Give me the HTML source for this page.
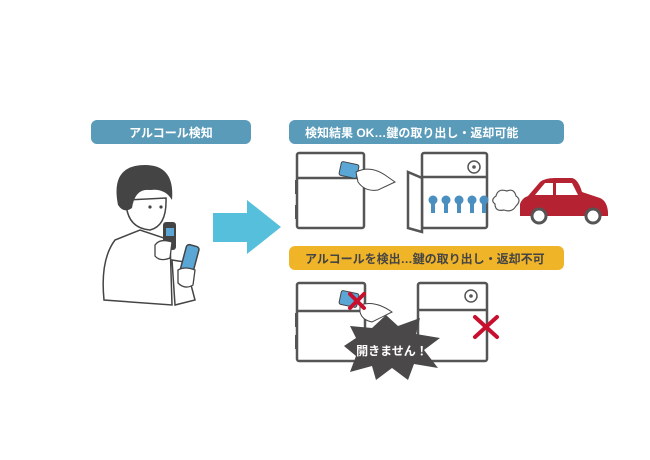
<!DOCTYPE html>
<html><head><meta charset="utf-8"><style>
html,body{margin:0;padding:0;background:#fff;}
svg{display:block;}
text{font-family:"Liberation Sans","Noto Sans CJK JP",sans-serif;font-weight:bold;}
</style></head><body>
<svg width="650" height="460" viewBox="0 0 650 460" xmlns="http://www.w3.org/2000/svg">
<rect width="650" height="460" fill="#fff"/>
<rect x="91" y="120" width="160" height="24" rx="6" fill="#5a9bba"/>
<text x="171" y="137" font-size="12" fill="#fff" text-anchor="middle">アルコール検知</text>
<rect x="289" y="120" width="275" height="24" rx="6" fill="#5a9bba"/>
<text x="305" y="137" font-size="12" fill="#fff">検知結果 OK…鍵の取り出し・返却可能</text>
<rect x="289" y="246" width="275" height="24" rx="6" fill="#f0b429"/>
<text x="305" y="263" font-size="12" fill="#444">アルコールを検出…鍵の取り出し・返却不可</text>
<polygon points="213,213 247,213 247,200 281,227 247,254 247,242 213,242" fill="#56c0dc"/>
<!-- person -->
<g stroke="#444" stroke-width="1.5" fill="#fff">
<path d="M104,300 Q100,260 115,240 L140,230 L170,240 L172,305 Z"/>
<path d="M172,260 L185,262 L195,300 L175,305 Z"/>
<path d="M126,200 Q126,228 150,230 Q167,226 166,198 Z"/>
</g>
<path d="M118,205 Q110,165 145,165 Q175,165 172,200 Q165,188 150,190 Q135,188 132,208 Q124,214 118,205 Z" fill="#444"/>
<circle cx="150" cy="207" r="1.6" fill="#444"/><circle cx="161" cy="207" r="1.6" fill="#444"/>
<rect x="163" y="222" width="13" height="28" rx="3" fill="#444"/>
<rect x="166" y="228" width="8" height="8" fill="#5aa7d6"/>
<path d="M155,245 Q160,238 172,242 L170,258 Q160,262 155,256 Z" fill="#fff" stroke="#444" stroke-width="1.3"/>
<rect x="183" y="245" width="13" height="30" rx="3" transform="rotate(15 189 260)" fill="#5aa7d6" stroke="#444" stroke-width="1.5"/>
<path d="M178,270 Q185,266 195,270 L193,285 Q185,290 178,283 Z" fill="#fff" stroke="#444" stroke-width="1.3"/>
<!-- boxes -->
<g stroke="#555" stroke-width="2.5" fill="#fff">
<rect x="297" y="153" width="67" height="75" rx="2"/>
<line x1="297" y1="178" x2="364" y2="178"/>
<rect x="422" y="153" width="65" height="75" rx="2"/>
<line x1="422" y1="177" x2="487" y2="177"/>
<polygon points="408,172 422,178 422,232 408,228"/>
<rect x="297" y="283" width="68" height="78" rx="2"/>
<line x1="297" y1="311" x2="365" y2="311"/>
<rect x="418" y="283" width="69" height="78" rx="2"/>
<line x1="418" y1="310" x2="487" y2="310"/>
</g>
<rect x="295" y="180" width="3" height="14" fill="#555"/><rect x="295" y="205" width="3" height="14" fill="#555"/>
<rect x="295" y="313" width="3" height="14" fill="#555"/><rect x="295" y="335" width="3" height="14" fill="#555"/>
<rect x="340" y="163" width="18" height="14" rx="2" transform="rotate(12 349 170)" fill="#5aa7d6" stroke="#444"/>
<path d="M356,172 Q370,165 385,175 L395,182 L378,190 Q365,192 358,182 Z" fill="#fff" stroke="#444"/>
<circle cx="474" cy="167" r="6" fill="#fff" stroke="#555" stroke-width="1.5"/><circle cx="474" cy="167" r="1.8" fill="#555"/>
<circle cx="471" cy="296" r="6" fill="#fff" stroke="#555" stroke-width="1.5"/><circle cx="471" cy="296" r="1.8" fill="#555"/>
<g fill="#4a8fc0">
<circle cx="433" cy="200" r="4.5"/><rect x="431" y="200" width="4" height="13"/>
<circle cx="446" cy="200" r="4.5"/><rect x="444" y="200" width="4" height="13"/>
<circle cx="459" cy="200" r="4.5"/><rect x="457" y="200" width="4" height="13"/>
<circle cx="472" cy="200" r="4.5"/><rect x="470" y="200" width="4" height="13"/>
<circle cx="484" cy="200" r="4.5"/><rect x="482" y="200" width="4" height="13"/>
</g>
<path d="M496,196 Q498,188 507,191 Q514,188 516,196 Q522,200 516,206 Q512,213 504,210 Q495,212 495,204 Q490,200 496,196 Z" fill="#fff" stroke="#555" stroke-width="1.2"/>
<path d="M520,204 Q522,198 528,196 L540,182 Q545,178 555,178 L572,178 Q578,179 582,192 L600,198 Q607,201 608,212 L608,216 L520,216 Z" fill="#b52332"/>
<polygon points="535,195 545,183 553,183 553,195" fill="#fff"/>
<polygon points="556,183 572,183 578,195 556,195" fill="#fff"/>
<circle cx="539" cy="216" r="7" fill="#fff" stroke="#555" stroke-width="3"/>
<circle cx="593" cy="216" r="7" fill="#fff" stroke="#555" stroke-width="3"/>
<!-- denied -->
<rect x="340" y="292" width="18" height="14" rx="2" transform="rotate(12 349 299)" fill="#5aa7d6" stroke="#444"/>
<path d="M360,305 Q375,300 392,312 L372,322 Q362,320 360,312 Z" fill="#fff" stroke="#444"/>
<g stroke="#c8102e" stroke-width="4" stroke-linecap="round">
<line x1="350" y1="294" x2="364" y2="308"/><line x1="364" y1="294" x2="350" y2="308"/>
<line x1="475" y1="317" x2="497" y2="337"/><line x1="497" y1="317" x2="475" y2="337"/>
</g>
<polygon points="350,326 372,328 386,315 398,326 420,318 416,334 440,338 424,350 438,368 414,364 408,380 392,368 376,380 372,366 350,372 356,356 344,346 356,338" fill="#4a4848"/>
<text x="392" y="355" font-size="12" fill="#fff" text-anchor="middle">開きません！</text>
</svg>
</body></html>
